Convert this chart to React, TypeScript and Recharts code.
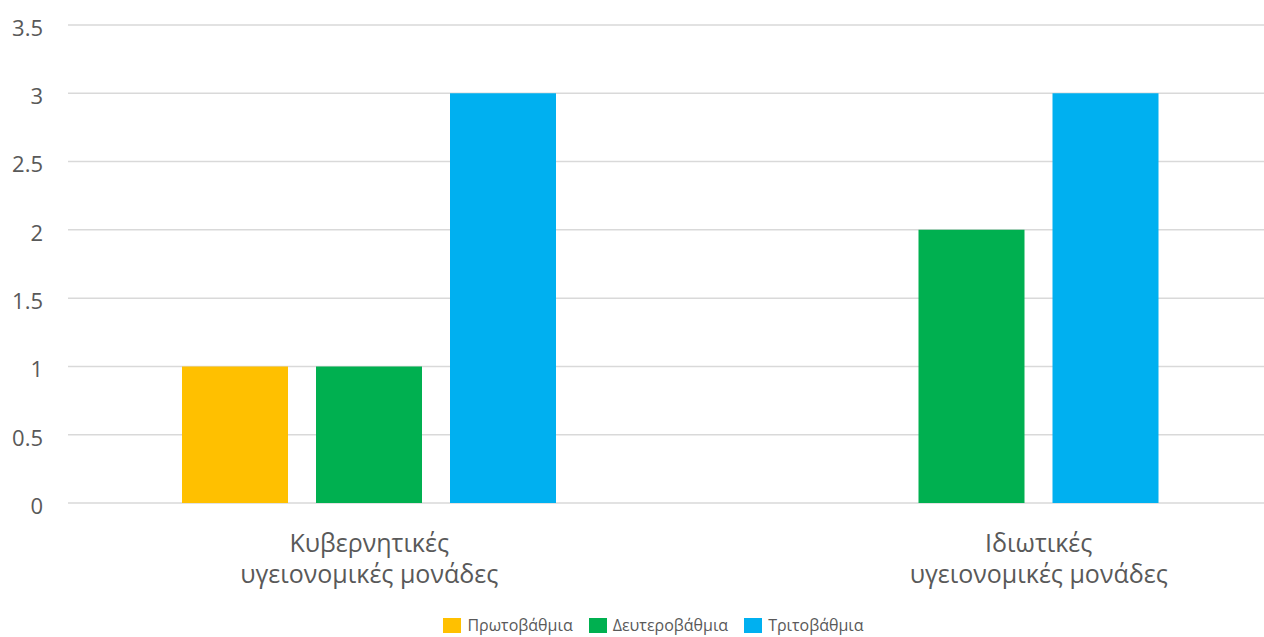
import { BarChart, Bar, XAxis, YAxis, CartesianGrid, Legend } from 'recharts'

const categories = ['Κυβερνητικές\nυγειονομικές μονάδες', 'Ιδιωτικές\nυγειονομικές μονάδες']
const primary = [1, 0]
const secondary = [1, 2]
const tertiary = [3, 3]
const yTicks = [0, 0.5, 1, 1.5, 2, 2.5, 3, 3.5]

const series = [
  { key: 'primary', name: 'Πρωτοβάθμια', color: '#FFC000', values: primary },
  { key: 'secondary', name: 'Δευτεροβάθμια', color: '#00B050', values: secondary },
  { key: 'tertiary', name: 'Τριτοβάθμια', color: '#00B0F0', values: tertiary }
]

const data = categories.map((c, i) => ({
  name: c,
  primary: primary[i],
  secondary: secondary[i],
  tertiary: tertiary[i]
}))

const FONT = '"Open Sans", "Noto Sans", sans-serif'
const TEXT = '#595959'
const BAR_SIZE = 106
const BAR_GAP = 28

// label sits over the bars that are actually drawn (zero bars leave an empty slot)
function labelShift(index: number) {
  const step = BAR_SIZE + BAR_GAP
  const mid = (series.length - 1) / 2
  const offs = series.map((s, k) => (s.values[index] > 0 ? (k - mid) * step : null)).filter(v => v !== null) as number[]
  return offs.length ? offs.reduce((a, b) => a + b, 0) / offs.length : 0
}

function CategoryTick(props: any) {
  const { x, y, payload, index } = props
  const lines = String(payload.value).split('\n')
  const cx = x + labelShift(index)
  return (
    <text x={cx} y={y} textAnchor="middle" fill={TEXT} fontSize={25} fontFamily={FONT}>
      {lines.map((l, i) => (
        <tspan key={i} x={cx} dy={i === 0 ? 47 : 31}>{l}</tspan>
      ))}
    </text>
  )
}

function ValueTick(props: any) {
  const { x, y, payload } = props
  return (
    <text x={x} y={y + 3} dy="0.355em" textAnchor="end" fill={TEXT} fontSize={22} fontFamily={FONT}>
      {payload.value}
    </text>
  )
}

function LegendBox() {
  return (
    <div style={{ display: 'flex', justifyContent: 'center', paddingTop: 12, paddingLeft: 50, fontFamily: FONT, fontSize: 16, color: TEXT }}>
      {series.map(s => (
        <div key={s.key} style={{ display: 'flex', alignItems: 'center', marginRight: 16, lineHeight: '20px' }}>
          <span style={{ width: 18, height: 15, background: s.color, display: 'inline-block', marginRight: 6 }} />
          <span>{s.name}</span>
        </div>
      ))}
    </div>
  )
}

export default function App() {
  return (
    <div style={{ position: 'absolute', left: 0, top: 0, width: 1264, height: 637, overflow: 'hidden', background: '#fff' }}>
      <BarChart
        width={1273}
        height={637}
        data={data}
        margin={{ top: 25, right: 0, left: 0, bottom: 0 }}
        barSize={BAR_SIZE}
        barGap={BAR_GAP}
      >
        <CartesianGrid vertical={false} stroke="#d9d9d9" strokeWidth={1.5} />
        <XAxis dataKey="name" axisLine={false} tickLine={false} tickSize={0} height={100} tick={<CategoryTick />} interval={0} />
        <YAxis
          domain={[0, 3.5]}
          ticks={yTicks}
          width={68}
          axisLine={false}
          tickLine={false}
          tickSize={0}
          tickMargin={25}
          tick={<ValueTick />}
        />
        <Legend height={34} verticalAlign="bottom" content={<LegendBox />} />
        {series.map(s => (
          <Bar key={s.key} dataKey={s.key} name={s.name} fill={s.color} isAnimationActive={false} />
        ))}
      </BarChart>
    </div>
  )
}
